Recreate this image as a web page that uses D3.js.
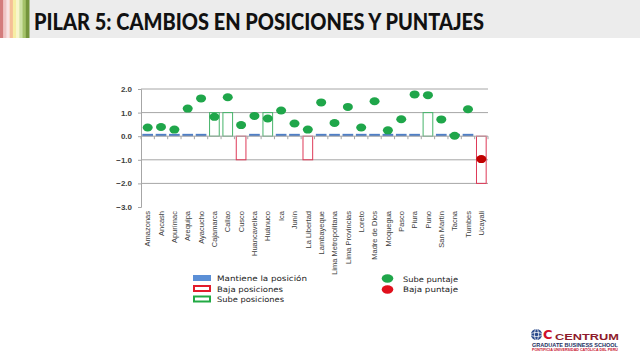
<!DOCTYPE html>
<html><head><meta charset="utf-8">
<script src="https://cdn.jsdelivr.net/npm/d3@7"></script>
<style>html,body{margin:0;padding:0;background:#fff;overflow:hidden}</style>
</head><body>
<svg id="c" width="640" height="357"></svg>
<script>
// ---- data ----
const title = "PILAR 5: CAMBIOS EN POSICIONES Y PUNTAJES";
const categories = ["Amazonas","Ancash","Apurímac","Arequipa","Ayacucho","Cajamarca","Callao","Cusco","Huancavelica","Huánuco","Ica","Junín","La Libertad","Lambayeque","Lima Metropolitana","Lima Provincias","Loreto","Madre de Dios","Moquegua","Pasco","Piura","Puno","San Martín","Tacna","Tumbes","Ucayali"];
const positionChange = [0,0,0,0,0,1,1,-1,0,1,0,0,-1,0,0,0,0,0,0,0,0,1,0,0,0,-2];
const scoreChange = [0.37,0.39,0.28,1.17,1.60,0.82,1.65,0.47,0.86,0.75,1.09,0.54,0.28,1.43,0.56,1.24,0.37,1.48,0.25,0.72,1.77,1.74,0.71,0.02,1.14,-0.97];
const keepMarkerValue = 0.1; // bar height used for "Mantiene la posición"
const yTicks = [2,1,0,-1,-2,-3];
const legendLeft = ["Mantiene la posición","Baja posiciones","Sube posiciones"];
const legendRight = ["Sube puntaje","Baja puntaje"];

const svg = d3.select("#c");

// ---- header ----
const stripeColors = ["#d47c7c","#f0c6c6","#f9e4e4","#f5bf98","#f6eea4","#f8f6cc","#cfe2a6","#a5c36a","#74953c"];
const stripeX = d3.scaleBand().domain(d3.range(stripeColors.length)).range([0,29]);
svg.append("rect").attr("x",29).attr("y",0).attr("width",611).attr("height",38).attr("fill","#ececec");
svg.selectAll(".stripe").data(stripeColors).join("rect")
  .attr("x",(d,i)=>stripeX(i)).attr("y",0).attr("width",stripeX.bandwidth()+0.5).attr("height",38).attr("fill",d=>d);
svg.append("text").attr("x",34).attr("y",30).text(title)
  .attr("font-family","Lato, 'Open Sans', sans-serif").attr("font-weight",900).attr("font-size",22)
  .attr("fill","#111").attr("textLength",450).attr("lengthAdjust","spacingAndGlyphs");

// ---- chart ----
const x = d3.scaleBand().domain(categories).range([141,488]).paddingInner(0.2).paddingOuter(0.1);
const y = d3.scaleLinear().domain([-3,2]).range([207,89]);
const step = x.step();
const x0 = 141;

// gridlines
svg.selectAll(".grid").data(yTicks.filter(t=>t!==0 && t!==-3)).join("line")
  .attr("x1",141).attr("x2",488).attr("y1",d=>y(d)).attr("y2",d=>y(d))
  .attr("stroke","#a6a6a6").attr("stroke-width",1);

// bars
const rows = categories.map((c,i)=>({c, p:positionChange[i], s:scoreChange[i]}));
const bars = svg.append("g");
rows.forEach(r=>{
  if (r.p===0) {
    bars.append("rect").attr("x",x(r.c)).attr("width",x.bandwidth())
      .attr("y",y(keepMarkerValue)).attr("height",y(0)-y(keepMarkerValue)).attr("fill","#4f7fc6");
  } else {
    const top = y(Math.max(0,r.p)), bot = y(Math.min(0,r.p));
    bars.append("rect").attr("x",x(r.c)+0.5).attr("width",x.bandwidth()-1)
      .attr("y",top).attr("height",bot-top).attr("fill","none")
      .attr("stroke", r.p>0 ? "#46b36a" : "#de3a58").attr("stroke-width",1);
  }
});

// x axis line at 0 with category ticks
svg.append("line").attr("x1",141).attr("x2",488).attr("y1",y(0)).attr("y2",y(0)).attr("stroke","#a6a6a6");
svg.selectAll(".xt").data(d3.range(categories.length+1)).join("line")
  .attr("x1",d=>x0+d*step).attr("x2",d=>x0+d*step).attr("y1",y(0)).attr("y2",y(0)+3)
  .attr("stroke","#a6a6a6");

// y axis
const yAxis = d3.axisLeft(y).tickValues(yTicks).tickSize(3).tickFormat(d3.format(".1f"));
const ya = svg.append("g").attr("transform","translate(141,0)").call(yAxis);
ya.select(".domain").attr("stroke","#a6a6a6");
ya.selectAll(".tick line").attr("stroke","#a6a6a6");
ya.selectAll(".tick text").attr("font-family","'Liberation Sans', Arial, sans-serif")
  .attr("font-size",8).attr("font-weight","bold").attr("fill","#404040").attr("x",-9);

// category labels
svg.selectAll(".cl").data(categories).join("text")
  .attr("transform",d=>`translate(${x(d)+x.bandwidth()/2+2.7},211) rotate(-90)`)
  .attr("text-anchor","end").text(d=>d)
  .attr("font-family","'Liberation Sans Narrow', 'Arial Narrow', sans-serif")
  .attr("font-stretch","condensed").attr("font-size",7.5).attr("fill","#404040");

// score dots
svg.selectAll(".dot").data(rows).join("ellipse")
  .attr("cx",d=>x(d.c)+x.bandwidth()/2).attr("cy",d=>y(d.s))
  .attr("rx",5).attr("ry",4)
  .attr("fill",d=>d.s>=0 ? "#1fa64a" : "#c00000");

// ---- legend ----
const lf = "'DejaVu Sans', Verdana, sans-serif";
const lg = svg.append("g");
lg.append("rect").attr("x",193).attr("y",275).attr("width",18).attr("height",6).attr("fill","#5b8fd6");
lg.append("rect").attr("x",194).attr("y",286).attr("width",16).attr("height",5).attr("fill","none").attr("stroke","#e21c2c").attr("stroke-width",2);
lg.append("rect").attr("x",194).attr("y",296.5).attr("width",16).attr("height",5).attr("fill","none").attr("stroke","#22aa44").attr("stroke-width",2);
const lw = [90,66,67];
legendLeft.forEach((t,i)=>{
  lg.append("text").attr("x",217).attr("y",281+i*10.5).text(t)
    .attr("font-family",lf).attr("font-size",7.5).attr("fill","#222")
    .attr("textLength",lw[i]).attr("lengthAdjust","spacingAndGlyphs");
});
lg.append("ellipse").attr("cx",387.5).attr("cy",278.5).attr("rx",5.8).attr("ry",4.2).attr("fill","#1fa64a");
lg.append("ellipse").attr("cx",387.5).attr("cy",289.5).attr("rx",5.8).attr("ry",4.2).attr("fill","#e0101c");
legendRight.forEach((t,i)=>{
  lg.append("text").attr("x",403).attr("y",281.5+i*10.5).text(t)
    .attr("font-family",lf).attr("font-size",7.5).attr("fill","#222")
    .attr("textLength",55).attr("lengthAdjust","spacingAndGlyphs");
});

// ---- logo ----
const lo = svg.append("g");
lo.append("circle").attr("cx",536.5).attr("cy",334.5).attr("r",5.5).attr("fill","#2b4a8c");
lo.append("ellipse").attr("cx",536.5).attr("cy",334.5).attr("rx",5.5).attr("ry",2).attr("fill","none").attr("stroke","#fff").attr("stroke-width",0.8);
lo.append("ellipse").attr("cx",536.5).attr("cy",334.5).attr("rx",2).attr("ry",5.5).attr("fill","none").attr("stroke","#fff").attr("stroke-width",0.8);
lo.append("text").attr("x",543).attr("y",339).text("C").attr("font-family","'DejaVu Sans', sans-serif")
  .attr("font-weight","bold").attr("font-size",13).attr("fill","#d0102a");
lo.append("text").attr("x",555).attr("y",339.5).text("CENTRUM").attr("font-family","'Liberation Sans', Arial, sans-serif")
  .attr("font-weight","bold").attr("font-size",9).attr("fill","#8e1b2c").attr("textLength",64).attr("lengthAdjust","spacingAndGlyphs");
lo.append("text").attr("x",532).attr("y",346.5).text("GRADUATE BUSINESS SCHOOL").attr("font-family","'Liberation Sans', Arial, sans-serif")
  .attr("font-weight","bold").attr("font-size",5).attr("fill","#233062").attr("textLength",86).attr("lengthAdjust","spacingAndGlyphs");
lo.append("text").attr("x",532).attr("y",351).text("PONTIFICIA UNIVERSIDAD CATÓLICA DEL PERÚ").attr("font-family","'Liberation Sans', Arial, sans-serif")
  .attr("font-weight","bold").attr("font-size",3.5).attr("fill","#c8102e").attr("textLength",86).attr("lengthAdjust","spacingAndGlyphs");
</script>
</body></html>
